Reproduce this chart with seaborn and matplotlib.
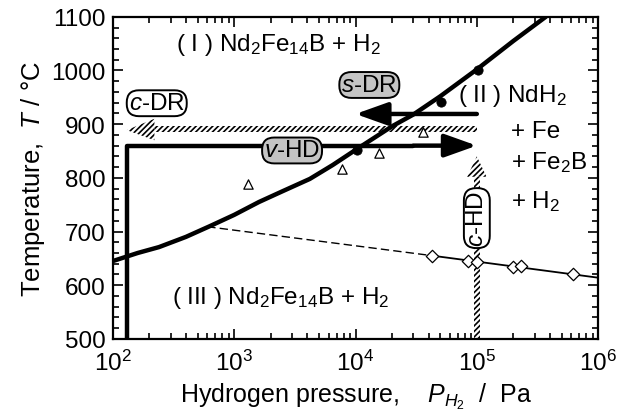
import numpy as np
import pandas as pd
import matplotlib
matplotlib.use("Agg")
import matplotlib.pyplot as plt
import seaborn as sns
from matplotlib.ticker import LogLocator, MultipleLocator, NullFormatter

# phase boundary (thick curve)
curve_p = [1e2, 1.6e2, 2.4e2, 4e2, 6.3e2, 1e3, 1.6e3, 2.5e3, 4.2e3, 6.5e3,
           1e4, 2e4, 3e4, 5e4, 1e5, 2e5, 3.7e5]
curve_T = [645, 660, 671, 690, 710, 731, 755, 775, 798, 824,
           852, 896, 918, 952, 1002, 1055, 1100]

# measured points
circle_p = [1.03e4, 5.1e4, 1.02e5]
circle_T = [852, 942, 1000]
tri_p = [1.3e3, 7.8e3, 1.55e4, 3.6e4]
tri_T = [789, 817, 847, 886]
dia_p = [4.3e4, 8.5e4, 1.0e5, 2.0e5, 2.3e5, 6.2e5]
dia_T = [655, 646, 643, 633, 636, 620]

# lower boundary: dashed extrapolation + solid fit
dash_p = [6e2, 4.3e4]
dash_T = [709, 655]
fit_p = [4.3e4, 1e6]
fit_T = [655, 614]

# process routes
vhd_p = [1.3e2, 1.3e2, 3e4]
vhd_T = [500, 860, 860]
vhd_arrow = (3e4, 1e5, 860)
sdr_arrow = (1e5, 1.0e4, 919)
cdr_band = (2.2e2, 1e5, 885, 896)
cdr_head = ([1.3e2, 2.2e2, 2.2e2], [889, 870, 910])
chd_band = (10**4.975, 10**5.025, 500, 802)
chd_head = ([10**4.92, 10**5.08, 1e5], [802, 802, 840])

sns.set_style("ticks")
plt.rcParams['font.family'] = ['Liberation Sans', 'DejaVu Sans']
plt.rcParams['mathtext.fontset'] = 'custom'
plt.rcParams['mathtext.rm'] = 'Liberation Sans'
plt.rcParams['mathtext.it'] = 'Liberation Sans:italic'
plt.rcParams['hatch.linewidth'] = 1.2
for key in ('text.color', 'axes.labelcolor', 'xtick.color', 'ytick.color'):
    plt.rcParams[key] = 'black'

fig = plt.figure(figsize=(6.27, 4.14), dpi=100)
ax = fig.add_axes([0.180, 0.179, 0.774, 0.778])
ax.set_xscale('log')

hatch_kw = dict(facecolor='white', edgecolor='black', hatch='//////', linewidth=0, zorder=2)
# hatched c-DR band with arrow head
ax.fill_between(cdr_band[:2], cdr_band[2], cdr_band[3], **hatch_kw)
ax.fill(*cdr_head, **hatch_kw)
# hatched c-HD band with arrow head
ax.fill_betweenx(chd_band[2:], chd_band[0], chd_band[1], **hatch_kw)
ax.fill(*chd_head, **hatch_kw)

lines = pd.DataFrame({'p': curve_p, 'T': curve_T})
sns.lineplot(data=lines, x='p', y='T', color='black', lw=3.2, sort=False,
             estimator=None, ax=ax, zorder=4)
sns.lineplot(x=dash_p, y=dash_T, color='black', lw=1.0, ls=(0, (6, 3)), ax=ax, zorder=3)
sns.lineplot(x=fit_p, y=fit_T, color='black', lw=1.3, ax=ax, zorder=3)
sns.lineplot(x=vhd_p, y=vhd_T, color='black', lw=3.2, sort=False, estimator=None,
             ax=ax, zorder=4)

for x0, x1, t in (vhd_arrow, sdr_arrow):
    ax.annotate('', xy=(x1, t), xytext=(x0, t),
                arrowprops=dict(arrowstyle='-|>,head_length=1.4,head_width=0.5',
                                mutation_scale=14, lw=3.2, color='black',
                                shrinkA=0, shrinkB=0),
                zorder=4)

sns.scatterplot(x=circle_p, y=circle_T, color='black', s=45, edgecolor='black', ax=ax, zorder=5)
sns.scatterplot(x=tri_p, y=tri_T, marker='^', s=45, facecolor='white', edgecolor='black',
                linewidth=0.9, ax=ax, zorder=5)
sns.scatterplot(x=dia_p, y=dia_T, marker='D', s=40, facecolor='white', edgecolor='black',
                linewidth=0.9, ax=ax, zorder=5)

# region labels
fs = 17.5
ax.text(2.3e3, 1050, '( I ) Nd$_2$Fe$_{14}$B + H$_2$', fontsize=fs, ha='center', va='center')
ax.text(7.0e4, 955, '( II ) NdH$_2$', fontsize=fs, ha='left', va='center')
ax.text(1.9e5, 888, '+ Fe', fontsize=fs, ha='left', va='center')
ax.text(1.9e5, 830, '+ Fe$_2$B', fontsize=fs, ha='left', va='center')
ax.text(1.9e5, 757, '+ H$_2$', fontsize=fs, ha='left', va='center')
ax.text(3.1e2, 578, '( III ) Nd$_2$Fe$_{14}$B + H$_2$', fontsize=fs, ha='left', va='center')

# process route boxes
box_w = dict(boxstyle='round,pad=0.08,rounding_size=0.5', fc='white', ec='black', lw=1.4)
box_g = dict(boxstyle='round,pad=0.08,rounding_size=0.5', fc='#c4c4c4', ec='black', lw=1.4)
ax.text(2.3e2, 939, r'$\it{c}$-DR', fontsize=fs, ha='center', va='center', bbox=box_w, zorder=6)
ax.text(1.3e4, 973, r'$\it{s}$-DR', fontsize=fs, ha='center', va='center', bbox=box_g, zorder=6)
ax.text(3.0e3, 851, r'$\it{v}$-HD', fontsize=fs, ha='center', va='center', bbox=box_g, zorder=6)
ax.text(1e5, 725, r'$\it{c}$-HD', fontsize=fs, ha='center', va='center', rotation=90,
        bbox=box_w, zorder=6)

ax.set_xlim(1e2, 1e6)
ax.set_ylim(500, 1100)
ax.xaxis.set_major_locator(LogLocator(base=10, numticks=10))
ax.xaxis.set_minor_locator(LogLocator(base=10, subs=np.arange(2, 10), numticks=10))
ax.xaxis.set_minor_formatter(NullFormatter())
ax.yaxis.set_major_locator(MultipleLocator(100))
ax.yaxis.set_minor_locator(MultipleLocator(20))
ax.tick_params(which='both', direction='in', top=True, right=True, width=1.2)
ax.tick_params(which='major', length=7, labelsize=17.5, pad=5)
ax.tick_params(axis='x', which='major', pad=8)
ax.tick_params(which='minor', length=4)
for s in ax.spines.values():
    s.set_linewidth(1.6)
    s.set_color('black')

ax.set_xlabel('Hydrogen pressure,    $P_{H_2}$  /  Pa', fontsize=18, labelpad=4)
ax.set_ylabel('Temperature,  $T$ / °C', fontsize=18.5, labelpad=3)

fig.savefig('out.png', dpi=100)
